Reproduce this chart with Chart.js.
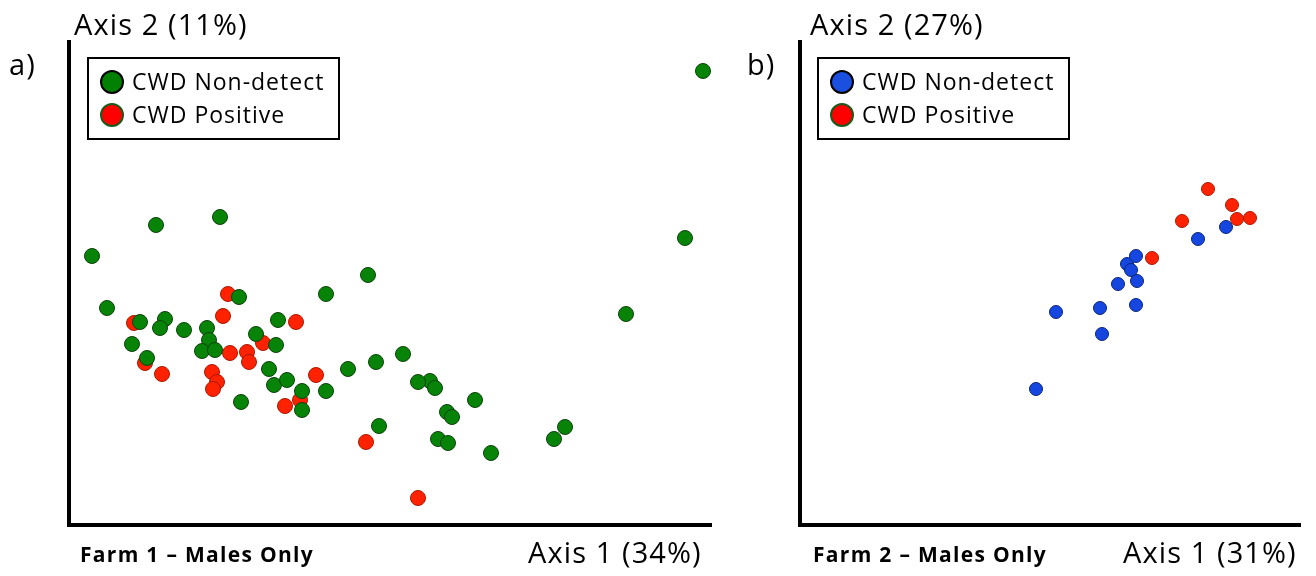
<!DOCTYPE html>
<html>
<head>
<meta charset="utf-8">
<script src="https://cdn.jsdelivr.net/npm/chart.js@4.4.0/dist/chart.umd.min.js"></script>
<style>
  body { margin: 0; background: #fff; width: 1316px; height: 576px; overflow: hidden; position: relative; font-family: "Open Sans", Lato, sans-serif; color: #000; }
  canvas { position: absolute; top: 0; }
  .t { position: absolute; white-space: nowrap; line-height: 1; }
  .big { font-size: 29px; letter-spacing: 1.1px; }
  .farm { font-size: 21px; font-weight: bold; letter-spacing: 1.3px; }
  .legend { position: absolute; border: 2px solid #000; background: #fff; width: 249px; height: 79px; }
  .legend div { position: absolute; left: 43px; font-size: 23px; letter-spacing: 1px; white-space: nowrap; line-height: 1; }
  .legend span { position: absolute; left: 11px; width: 20px; height: 20px; border-radius: 50%; }
</style>
</head>
<body>
<canvas id="farm1" width="730" height="576" style="left:0"></canvas>
<canvas id="farm2" width="586" height="576" style="left:730px"></canvas>

<div class="t big" style="left:74px;top:9px">Axis 2 (11%)</div>
<div class="t big" style="left:9px;top:49px">a)</div>
<div class="t farm" style="left:80px;top:544px">Farm 1 – Males Only</div>
<div class="t big" style="left:528px;top:537px">Axis 1 (34%)</div>

<div class="t big" style="left:810px;top:9px">Axis 2 (27%)</div>
<div class="t big" style="left:747px;top:49px">b)</div>
<div class="t farm" style="left:813px;top:544px">Farm 2 – Males Only</div>
<div class="t big" style="left:1123px;top:537px">Axis 1 (31%)</div>

<div class="legend" style="left:87px;top:57px">
  <span style="top:11px;background:#008000;border:2px solid #000"></span>
  <div style="top:11px">CWD Non-detect</div>
  <span style="top:44px;background:#ff0000;border:2px solid #1c5a1c"></span>
  <div style="top:44px">CWD Positive</div>
</div>
<div class="legend" style="left:817px;top:57px">
  <span style="top:11px;background:#1a4fe0;border:2px solid #000"></span>
  <div style="top:11px">CWD Non-detect</div>
  <span style="top:44px;background:#ff0000;border:2px solid #1c5a1c"></span>
  <div style="top:44px">CWD Positive</div>
</div>

<script>
// PCoA scores, farm 1 (males only)
var farm1NonDetectX = [0.334, 0.316, 0.257, -0.277, -0.213, -0.149, -0.262, -0.130, -0.229, -0.204, -0.209, -0.185,
  -0.162, -0.160, -0.167, -0.154, -0.237, -0.222, -0.091, -0.113, -0.093, -0.100, -0.095, -0.128, -0.043, -0.082,
  -0.067, -0.067, -0.001, -0.043, -0.021, 0.007, 0.034, 0.061, 0.049, 0.066, 0.010, 0.106, 0.078, 0.083, 0.069,
  0.079, 0.122, 0.185, 0.196];
var farm1NonDetectY = [0.254, 0.087, 0.011, 0.069, 0.100, 0.108, 0.017, 0.028, 0.003, 0.006, -0.003, -0.005,
  -0.003, -0.015, -0.026, -0.025, -0.019, -0.033, 0.005, -0.009, -0.020, -0.044, -0.060, -0.077, -0.066, -0.055,
  -0.066, -0.085, 0.050, 0.031, -0.044, -0.037, -0.029, -0.056, -0.057, -0.063, -0.101, -0.075, -0.087, -0.092,
  -0.114, -0.118, -0.128, -0.114, -0.102];
var farm1PositiveX = [-0.141, -0.146, -0.073, -0.235, -0.106, -0.139, -0.122, -0.120, -0.224, -0.207, -0.157,
  -0.152, -0.156, -0.053, -0.084, -0.069, -0.003, 0.049];
var farm1PositiveY = [0.031, 0.009, 0.003, 0.002, -0.018, -0.028, -0.027, -0.037, -0.038, -0.049, -0.047,
  -0.057, -0.064, -0.050, -0.081, -0.075, -0.117, -0.173];

// PCoA scores, farm 2 (males only)
var farm2NonDetectX = [-0.014, 0.006, 0.050, 0.052, 0.068, 0.077, 0.081, 0.086, 0.087, 0.086, 0.148, 0.176];
var farm2NonDetectY = [-0.064, 0.013, 0.017, -0.009, 0.041, 0.061, 0.055, 0.069, 0.044, 0.020, 0.086, 0.098];
var farm2PositiveX = [0.102, 0.132, 0.158, 0.182, 0.187, 0.200];
var farm2PositiveY = [0.067, 0.104, 0.136, 0.120, 0.106, 0.107];

function points(xs, ys) {
  return xs.map(function (x, i) { return { x: x, y: ys[i] }; });
}

function axis(min, max, pos, isX) {
  return {
    type: 'linear', position: pos, min: min, max: max,
    grid: { display: false },
    ticks: { display: false },
    border: { display: true, color: '#000', width: 4 },
    afterFit: function (s) { if (isX) { s.height = 0; } else { s.width = 0; } }
  };
}

function makeChart(id, datasets, xMin, xMax, pad) {
  new Chart(document.getElementById(id), {
    type: 'scatter',
    data: { datasets: datasets },
    options: {
      responsive: false,
      animation: false,
      clip: false,
      layout: { padding: pad },
      plugins: { legend: { display: false }, tooltip: { enabled: false } },
      scales: {
        x: axis(xMin, xMax, 'bottom', true),
        y: axis(-0.200, 0.283, 'left', false)
      }
    }
  });
}

makeChart('farm1', [
  { data: points(farm1NonDetectX, farm1NonDetectY), backgroundColor: '#078407', borderColor: '#0b420b', borderWidth: 1, pointRadius: 7.5 },
  { data: points(farm1PositiveX, farm1PositiveY), backgroundColor: '#ff2200', borderColor: '#a81800', borderWidth: 1, pointRadius: 7.5 }
], -0.300, 0.342, { left: 69, top: 42, right: 19, bottom: 51 });

makeChart('farm2', [
  { data: points(farm2NonDetectX, farm2NonDetectY), backgroundColor: '#1646e0', borderColor: '#0a2478', borderWidth: 1, pointRadius: 6.5 },
  { data: points(farm2PositiveX, farm2PositiveY), backgroundColor: '#ff2200', borderColor: '#a81800', borderWidth: 1, pointRadius: 6.5 }
], -0.250, 0.250, { left: 70, top: 42, right: 16, bottom: 51 });
</script>
</body>
</html>
